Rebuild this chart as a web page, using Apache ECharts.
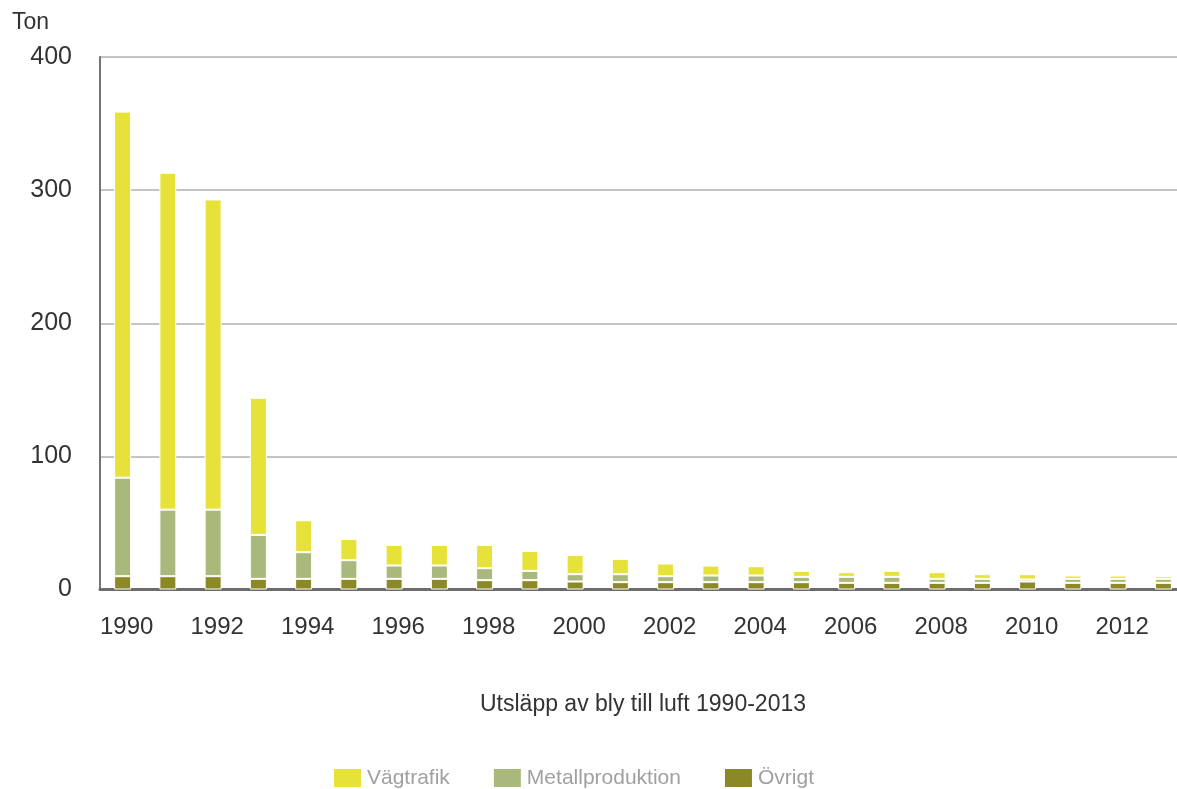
<!DOCTYPE html>
<html>
<head>
<meta charset="utf-8">
<title>Utsläpp av bly till luft 1990-2013</title>
<script src="https://cdn.jsdelivr.net/npm/echarts@6/dist/echarts.min.js"></script>
<style>
  html, body { margin: 0; padding: 0; background: #ffffff; }
  #chart { width: 1177px; height: 789px; }
</style>
</head>
<body>
<div id="chart"></div>
<script>
// Lead emissions to air, tonnes per year, by source
const years = ['1990','1991','1992','1993','1994','1995','1996','1997','1998','1999','2000','2001',
               '2002','2003','2004','2005','2006','2007','2008','2009','2010','2011','2012','2013'];
const ovrigt = [10, 10, 10, 8, 8, 8, 8, 8, 7, 7, 6, 5.5, 5.5, 5.5, 5.5, 5.5, 5, 5, 5, 5, 6, 5, 5, 5];
const metallproduktion = [74, 50, 50, 33, 20, 14, 10, 10, 9, 7, 5.5, 6, 4.5, 5, 5, 4, 4.5, 4.5, 3, 3, 1.5, 3, 3, 3];
const vagtrafik = [275, 253, 233, 103, 24, 16, 15.5, 15.5, 17.5, 15, 14.5, 11.5, 9.5, 7.5, 7, 4.5, 3.5, 4.5, 5, 3.5, 4, 2.5, 2.5, 2];
const yTicks = { min: 0, max: 400, interval: 100 };

const FONT = '"Liberation Sans", Arial, Helvetica, sans-serif';
const COLORS = { vag: '#e6e23a', met: '#a9b97c', ovr: '#8b8826' };

const chart = echarts.init(document.getElementById('chart'), null, { renderer: 'canvas' });

function barSeries(name, data, color) {
  return {
    name: name,
    type: 'bar',
    stack: 'total',
    data: data,
    barWidth: 17,
    itemStyle: { color: color, borderColor: '#ffffff', borderWidth: 1 },
    emphasis: { disabled: true }
  };
}

chart.setOption({
  backgroundColor: '#ffffff',
  animation: false,
  title: {
    text: 'Ton',
    left: 12,
    top: 11,
    padding: 0,
    textStyle: { fontFamily: FONT, fontSize: 23, fontWeight: 'normal', color: '#333333' }
  },
  legend: {
    data: ['Vägtrafik', 'Metallproduktion', 'Övrigt'],
    left: 332,
    top: 767,
    padding: 0,
    icon: 'rect',
    itemWidth: 29,
    itemHeight: 20,
    itemGap: 42,
    textStyle: { fontFamily: FONT, fontSize: 21, color: '#a0a0a0' }
  },
  // the plot runs a little past the right edge of the canvas
  grid: { left: 100, top: 57, width: 1086, bottom: 199.5, containLabel: false, outerBoundsMode: 'none' },
  xAxis: {
    type: 'category',
    data: years,
    name: 'Utsläpp av bly till luft 1990-2013',
    nameLocation: 'middle',
    nameGap: 104,
    nameTextStyle: { fontFamily: FONT, fontSize: 23, color: '#333333' },
    axisLine: { show: true, lineStyle: { color: '#6c6c6c', width: 3 } },
    axisTick: { show: false },
    axisLabel: { interval: 1, margin: 26, padding: [0, 0, 0, 8], fontFamily: FONT, fontSize: 24, color: '#333333' },
    splitLine: { show: false }
  },
  yAxis: {
    type: 'value',
    min: yTicks.min,
    max: yTicks.max,
    interval: yTicks.interval,
    axisLine: { show: true, lineStyle: { color: '#747474', width: 2 } },
    axisTick: { show: false },
    axisLabel: { margin: 28, fontFamily: FONT, fontSize: 25, color: '#333333' },
    splitLine: { show: true, lineStyle: { color: '#c4c4c4', width: 2 } }
  },
  series: [
    barSeries('Övrigt', ovrigt, COLORS.ovr),
    barSeries('Metallproduktion', metallproduktion, COLORS.met),
    barSeries('Vägtrafik', vagtrafik, COLORS.vag)
  ]
});
</script>
</body>
</html>
